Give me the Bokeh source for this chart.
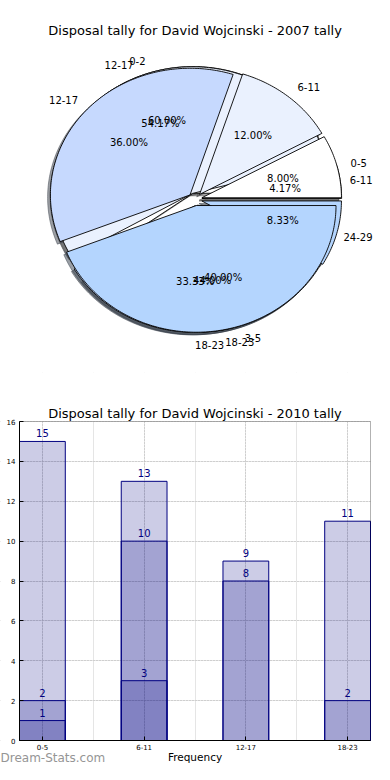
import numpy as np
from bokeh.plotting import figure
from bokeh.models import (ColumnDataSource, Range1d, FixedTicker, Label, LinearAxis,
                          Grid, BoxAnnotation)
from bokeh.layouts import column
from bokeh.embed import file_html
from bokeh.resources import INLINE

FONT = "DejaVu Sans"

# ------------------------------------------------------------------ data
pie_title = "Disposal tally for David Wojcinski - 2007 tally"
pie_a_labels = ["0-2", "3-5"]
pie_a_values = [3, 2]
pie_b_labels = ["6-11", "12-17", "18-23", "24-29"]
pie_b_values = [1, 13, 8, 2]
pie_c_labels = ["0-5", "6-11", "12-17", "18-23"]
pie_c_values = [2, 3, 9, 11]

bar_title = "Disposal tally for David Wojcinski - 2010 tally"
bar_categories = ["0-5", "6-11", "12-17", "18-23"]
bar_series_1 = [15, 13, 9, 11]
bar_series_2 = [2, 10, 8, 2]
bar_series_3 = [1, 3, 0, 0]
y_ticks = [0, 2, 4, 6, 8, 10, 12, 14, 16]
watermark = "Dream-Stats.com"

# ------------------------------------------------------------------ pie figure
W1, H1 = 374, 372
RX, RY = 139.6, 126.7        # pixels per data unit (elliptic pie)
CX, CY = 194.6, 198.8        # pie centre in figure pixels (from top-left)
EXPLODE = 0.05
SHADOW = -0.02
LABEL_PX = 10
wedge_colors = ["#ffffff", "#eaf1fe", "#c6d9fe", "#b4d5fe"]
char_em = {"-": 0.361}

pie = figure(width=W1, height=H1, output_backend="svg", toolbar_location=None,
             x_range=Range1d(-CX / RX, (W1 - CX) / RX),
             y_range=Range1d(-(H1 - CY) / RY, CY / RY),
             x_axis_location=None, y_axis_location=None,
             min_border=0, min_border_left=0, min_border_right=0,
             min_border_top=0, min_border_bottom=0)
pie.grid.visible = False
pie.outline_line_color = None


def hex_scale(c, f):
    c = c.lstrip("#")
    r, g, b = (int(c[i:i + 2], 16) for i in (0, 2, 4))
    return "#%02x%02x%02x" % (int(r * f), int(g * f), int(b * f))


def text_width_units(s):
    return sum(char_em.get(ch, 0.636) for ch in s) * LABEL_PX / RX


x_right_limit = (W1 - 2 - CX) / RX


def pie_geometry(values, labels):
    v = np.asarray(values, dtype=float)
    frac = v / v.sum()
    t2 = np.cumsum(frac) * 2 * np.pi
    t1 = t2 - frac * 2 * np.pi
    xs, ys, cols, lab, pct = [], [], [], [], []
    for i, (a, b) in enumerate(zip(t1, t2)):
        m = 0.5 * (a + b)
        cx, cy = EXPLODE * np.cos(m), EXPLODE * np.sin(m)
        th = np.linspace(a, b, max(int(np.degrees(b - a)), 2) + 1)
        xs.append(np.concatenate([[cx], cx + np.cos(th)]))
        ys.append(np.concatenate([[cy], cy + np.sin(th)]))
        cols.append(wedge_colors[i % len(wedge_colors)])
        xt, yt = cx + 1.1 * np.cos(m), cy + 1.1 * np.sin(m)
        align = "left" if xt > -1e-9 else "right"
        if align == "left":
            xt = min(xt, x_right_limit - text_width_units(labels[i]))
        lab.append((xt, yt, labels[i], align))
        pct.append((cx + 0.6 * np.cos(m), cy + 0.6 * np.sin(m), "%.2f%%" % (frac[i] * 100)))
    return xs, ys, cols, lab, pct


pies = [pie_geometry(pie_a_values, pie_a_labels),
        pie_geometry(pie_b_values, pie_b_labels),
        pie_geometry(pie_c_values, pie_c_labels)]

for xs, ys, cols, _, _ in pies:
    sc = [hex_scale(c, 0.3) for c in cols]
    pie.patches(xs=[x + SHADOW for x in xs], ys=[y + SHADOW for y in ys],
                fill_color=sc, line_color=sc, fill_alpha=0.5, line_alpha=0.5)
for xs, ys, cols, _, _ in pies:
    pie.patches(xs=xs, ys=ys, fill_color=cols, line_color="black", line_width=0.9)
for _, _, _, lab, pct in pies:
    src = ColumnDataSource(dict(x=[l[0] for l in lab], y=[l[1] for l in lab],
                                t=[l[2] for l in lab], a=[l[3] for l in lab]))
    pie.text(x="x", y="y", text="t", text_align="a", source=src, text_baseline="middle",
             text_font={"value": FONT}, text_font_size="%dpx" % LABEL_PX,
             text_color="black")
    src2 = ColumnDataSource(dict(x=[p[0] for p in pct], y=[p[1] for p in pct],
                                 t=[p[2] for p in pct]))
    pie.text(x="x", y="y", text="t", source=src2, text_align="center", text_baseline="middle",
             text_font={"value": FONT}, text_font_size="%dpx" % LABEL_PX, text_color="black")

pie.add_layout(Label(x=0, y=(CY - 30) / RY, text=pie_title, text_align="center",
                     text_baseline="middle", text_font=FONT, text_font_size="13px",
                     text_color="black"))

# ------------------------------------------------------------------ bar figure
W2, H2 = 374, 392            # page y 372 .. 764
TOP0 = 372
FRAME_L, FRAME_R, FRAME_T, FRAME_B = 19, 370, 421, 740
BW = 0.45
xpos = np.arange(len(bar_categories))
x0, x1 = -BW / 2, xpos[-1] + BW / 2
y0, y1 = y_ticks[0], y_ticks[-1]
px_x = (FRAME_R - FRAME_L) / (x1 - x0)
px_y = (FRAME_B - FRAME_T) / (y1 - y0)
xr0, xr1 = x0 - FRAME_L / px_x, x1 + (W2 - FRAME_R) / px_x
yr0, yr1 = y0 - (TOP0 + H2 - FRAME_B) / px_y, y1 + (FRAME_T - TOP0) / px_y

bar = figure(width=W2, height=H2, output_backend="svg", toolbar_location=None,
             x_range=Range1d(xr0, xr1), y_range=Range1d(yr0, yr1),
             x_axis_location=None, y_axis_location=None,
             min_border=0, min_border_left=0, min_border_right=0,
             min_border_top=0, min_border_bottom=0)
bar.outline_line_color = None

xt = FixedTicker(ticks=list(xpos))
yt = FixedTicker(ticks=y_ticks)
gx = Grid(dimension=0, ticker=xt, grid_line_color="#b8b8b8", grid_line_dash="1 2",
          grid_line_width=1)
gy = Grid(dimension=1, ticker=yt, grid_line_color="#b8b8b8", grid_line_dash="1 2",
          grid_line_width=1)
bar.add_layout(gx)
bar.add_layout(gy)
# white masks so that grid lines stay inside the plotting box
for kw in (dict(left=xr0, right=xr1, bottom=y1, top=yr1),
           dict(left=xr0, right=xr1, bottom=yr0, top=y0),
           dict(left=xr0, right=x0, bottom=yr0, top=yr1),
           dict(left=x1, right=xr1, bottom=yr0, top=yr1)):
    bar.add_layout(BoxAnnotation(fill_color="white", fill_alpha=1, line_color=None,
                                 level="underlay", **kw))

for series in (bar_series_1, bar_series_2, bar_series_3):
    keep = [i for i, v in enumerate(series) if v > 0]
    src = ColumnDataSource(dict(x=[xpos[i] for i in keep], top=[series[i] for i in keep]))
    bar.vbar(x="x", top="top", width=BW, source=src, fill_color="navy", fill_alpha=0.2,
             line_color="navy", line_width=1)

lx, ly, lt = [], [], []
for series in (bar_series_1, bar_series_2, bar_series_3):
    for i, v in enumerate(series):
        if v > 0:
            lx.append(xpos[i]); ly.append(v); lt.append(str(v))
bar.text(x="x", y="y", text="t", source=ColumnDataSource(dict(x=lx, y=ly, t=lt)),
         text_align="center", text_baseline="alphabetic", y_offset=-8,
         text_font={"value": FONT}, text_font_size="10px", text_color="navy")

bar.add_layout(BoxAnnotation(left=x0, right=x1, bottom=y0, top=y1, fill_alpha=0,
                             line_color="black", line_width=1))

xa = LinearAxis(fixed_location=y0, ticker=xt, bounds=(x0, x1),
                major_label_overrides={int(i): c for i, c in zip(xpos, bar_categories)},
                axis_label="Frequency")
ya = LinearAxis(fixed_location=x0, ticker=yt, bounds=(y0, y1))
for ax in (xa, ya):
    ax.major_label_text_font = FONT
    ax.major_label_text_font_size = "7px"
    ax.major_label_text_color = "black"
    ax.major_label_standoff = 4
    ax.major_tick_in = 4
    ax.major_tick_out = 0
    ax.minor_tick_line_color = None
    ax.axis_line_color = "black"
xa.major_label_standoff = 3
xa.axis_label_text_font = FONT
xa.axis_label_text_font_size = "10.5px"
xa.axis_label_text_font_style = "normal"
xa.axis_label_text_color = "black"
xa.axis_label_standoff = -2
bar.add_layout(xa, "below")
bar.add_layout(ya, "left")

bar.add_layout(Label(x=(x0 + x1) / 2, y=y1 + (FRAME_T - 413) / px_y, text=bar_title,
                     text_align="center", text_baseline="middle", text_font=FONT,
                     text_font_size="13px", text_color="black"))
bar.add_layout(Label(x=xr0, y=y0 - (757 - FRAME_B) / px_y, text=watermark,
                     text_align="left", text_baseline="middle", text_font=FONT,
                     text_font_size="12px", text_color="#959595"))

layout = column(pie, bar, spacing=0)
open("out.html", "w").write(file_html(layout, INLINE))
